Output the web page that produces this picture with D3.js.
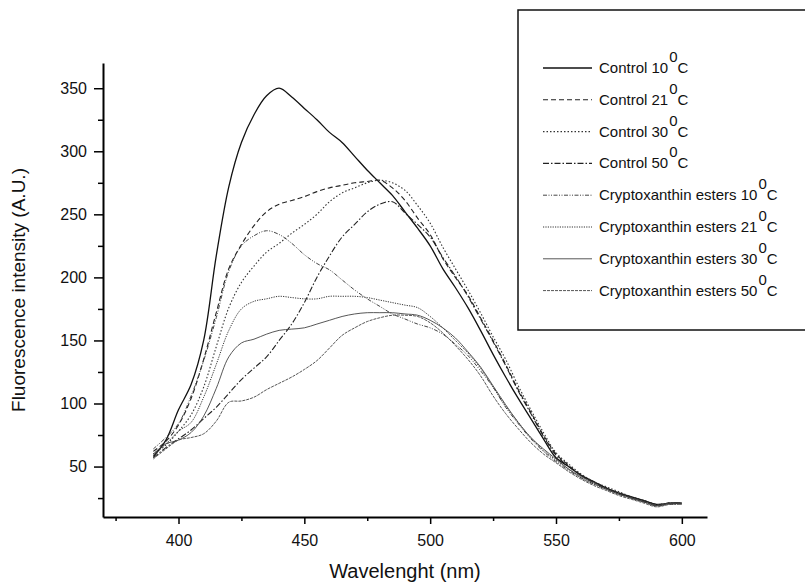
<!DOCTYPE html>
<html>
<head>
<meta charset="utf-8">
<script src="https://cdn.jsdelivr.net/npm/d3@7/dist/d3.min.js"></script>
<style>
  html, body { margin: 0; padding: 0; background: #fff; }
  svg { display: block; font-family: "Liberation Sans", Arial, Helvetica, sans-serif; }
</style>
</head>
<body>
<svg id="chart" width="805" height="583"></svg>
<script>
// ---------------- data ----------------
const wavelengths = [390,395,400,405,410,415,420,425,430,435,440,445,450,455,460,465,470,475,480,485,490,495,500,505,510,515,520,525,530,535,540,545,550,555,560,565,570,575,580,585,590,595,600];

const control10 = [58,71,95,115,150,217,272,307,329,344,350,343,334,325,315,307,296,285,275,265,252,239,225,207,192,176,158,139,121,104,88,72,57,50,43,38,33,29,26,23,20,21,21];
const control21 = [62,70,83,104,135,172,207,226,241,252,258,261,264,268,271,273,275,276,277,271,261,247,234,215,200,186,168,150,131,111,93,75,60,51,43,38,33,29,26,23,20,21,21];
const control30 = [60,67,78,91,113,145,176,196,209,220,227,235,242,250,260,267,271,275,277,275,269,257,243,224,207,190,172,153,135,114,95,77,61,52,44,38,34,30,26,23,20,21,21];
const control50 = [57,65,72,79,88,97,108,119,128,137,150,163,180,200,217,232,242,252,258,260,251,242,232,216,201,185,167,149,130,110,92,74,59,50,43,37,33,29,25,22,19,21,21];
const crypto10  = [64,73,84,106,134,168,205,225,233,237,234,227,218,211,206,198,190,183,177,171,167,163,160,155,147,138,126,113,97,84,72,62,54,47,41,36,32,28,25,22,19,20,20];
const crypto21  = [60,68,78,85,105,131,158,175,181,183,185,184,183,183,185,185,185,184,182,180,178,176,169,160,150,140,128,113,98,85,73,63,55,48,41,36,32,28,25,22,19,20,21];
const crypto30  = [60,68,71,77,90,112,137,148,151,155,158,159,160,163,166,169,171,172,172,172,171,170,166,160,152,141,129,114,99,85,73,64,56,48,42,37,32,28,25,22,19,21,21];
const crypto50  = [56,64,71,73,76,86,101,102,105,111,116,121,127,134,144,154,160,165,168,170,170,169,164,156,146,135,122,106,92,80,69,60,53,46,40,35,31,27,24,21,18,20,20];

const seriesNames = ["Control 10", "Control 21", "Control 30", "Control 50",
  "Cryptoxanthin esters 10", "Cryptoxanthin esters 21", "Cryptoxanthin esters 30", "Cryptoxanthin esters 50"];
const seriesValues = [control10, control21, control30, control50, crypto10, crypto21, crypto30, crypto50];

const yTickValues = [50,100,150,200,250,300,350];
const yMinorValues = [25,75,125,175,225,275,325];
const xTickValues = [400,450,500,550,600];
const xMinorValues = [375,425,475,525,575];

// ---------------- styles ----------------
const styles = [
  {dash: null,            width: 1.3, color: "#111"},
  {dash: "5,3",           width: 1.1, color: "#222"},
  {dash: "1.5,2",         width: 1.1, color: "#333"},
  {dash: "6,2,1.5,2",     width: 1.1, color: "#222"},
  {dash: "4,1.5,1,1.5,1,1.5", width: 1.0, color: "#444"},
  {dash: "1.2,1.2",       width: 1.0, color: "#333"},
  {dash: null,            width: 0.9, color: "#444"},
  {dash: "3,1",           width: 1.0, color: "#555"}
];

// ---------------- chart ----------------
const svg = d3.select("#chart");
const x = d3.scaleLinear().domain([370, 610]).range([103, 707]);
const y = d3.scaleLinear().domain([10, 370]).range([517, 63]);

const line = d3.line()
  .x(d => x(d[0]))
  .y(d => y(d[1]))
  .curve(d3.curveCatmullRom.alpha(0.5));

seriesValues.forEach((vals, i) => {
  const pts = wavelengths.map((w, j) => [w, vals[j]]);
  svg.append("path")
    .datum(pts)
    .attr("fill", "none")
    .attr("stroke", styles[i].color)
    .attr("stroke-width", styles[i].width)
    .attr("stroke-dasharray", styles[i].dash)
    .attr("d", line);
});

// axes
svg.append("g").attr("transform", "translate(103,0)")
  .call(d3.axisLeft(y).tickValues(yTickValues).tickSize(9).tickSizeOuter(0).tickPadding(7));
svg.append("g").attr("transform", "translate(103,0)")
  .call(d3.axisLeft(y).tickValues(yMinorValues).tickSize(5).tickSizeOuter(0).tickFormat(""))
  .select(".domain").remove();

svg.append("g").attr("transform", "translate(0,517)")
  .call(d3.axisBottom(x).tickValues(xTickValues).tickSize(7).tickSizeOuter(0).tickPadding(11));
svg.append("g").attr("transform", "translate(0,517)")
  .call(d3.axisBottom(x).tickValues(xMinorValues).tickSize(4).tickSizeOuter(0).tickFormat(""))
  .select(".domain").remove();

svg.selectAll(".domain").attr("stroke", "#000").attr("stroke-width", 2);
svg.selectAll(".tick line").attr("stroke", "#000").attr("stroke-width", 1.5);
svg.selectAll(".tick text").attr("fill", "#111").style("font-size", "16px")
  .style("font-family", "'Liberation Sans', Arial, sans-serif");

// axis titles
svg.append("text")
  .attr("transform", "translate(25,290) rotate(-90)")
  .attr("text-anchor", "middle")
  .style("font-size", "19px")
  .attr("fill", "#111")
  .text("Fluorescence intensity (A.U.)");

svg.append("text")
  .attr("x", 405).attr("y", 578)
  .attr("text-anchor", "middle")
  .style("font-size", "20px")
  .attr("fill", "#111")
  .text("Wavelenght (nm)");

// legend
svg.append("rect")
  .attr("x", 518).attr("y", 10).attr("width", 300).attr("height", 320)
  .attr("fill", "#fff").attr("stroke", "#111").attr("stroke-width", 1.5);

seriesNames.forEach((name, i) => {
  const cy = 68 + i * 31.8;
  svg.append("line")
    .attr("x1", 543).attr("x2", 592).attr("y1", cy).attr("y2", cy)
    .attr("stroke", styles[i].color)
    .attr("stroke-width", styles[i].width)
    .attr("stroke-dasharray", styles[i].dash);
  const t = svg.append("text")
    .attr("x", 599).attr("y", cy + 5)
    .style("font-size", "15px")
    .attr("fill", "#111");
  t.append("tspan").text(name);
  t.append("tspan").attr("dy", -11).attr("dx", 1).text("0");
  t.append("tspan").attr("dy", 11).attr("dx", 0).text("C");
});
</script>
</body>
</html>
